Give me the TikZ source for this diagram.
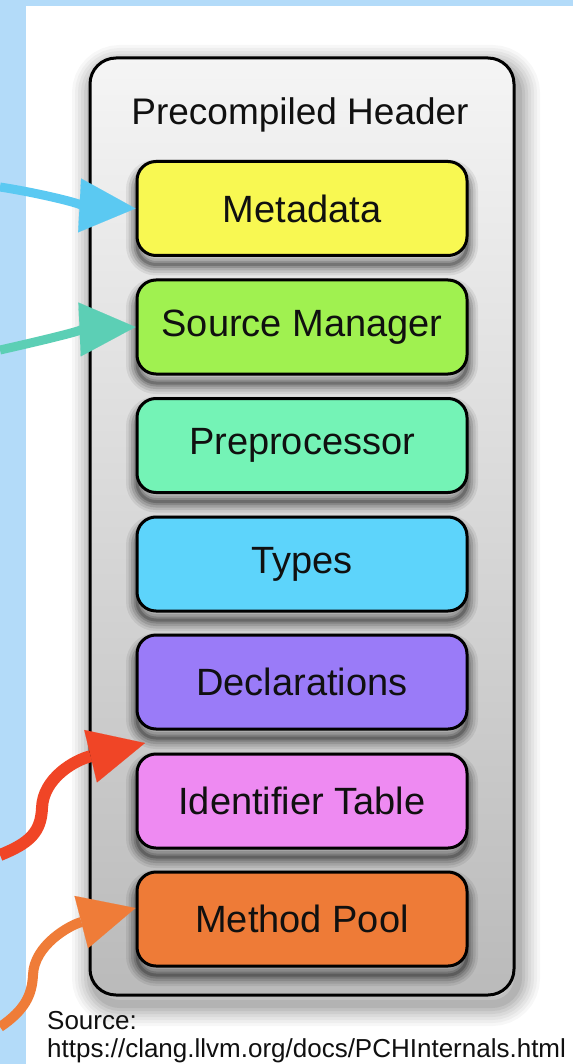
\documentclass[tikz,border=0pt]{standalone}
\usepackage{fontspec}
\setmainfont{Liberation Sans}
\usetikzlibrary{arrows.meta,calc}

\definecolor{pagebg}{HTML}{B3DBF9}
\definecolor{inktext}{HTML}{101010}
\definecolor{cMeta}{HTML}{F8F852}
\definecolor{cSrc}{HTML}{A0F150}
\definecolor{cPre}{HTML}{74F3B6}
\definecolor{cTypes}{HTML}{5DD4FB}
\definecolor{cDecl}{HTML}{9A7BF8}
\definecolor{cIdent}{HTML}{EE8AF2}
\definecolor{cPool}{HTML}{EE7B37}
\definecolor{aBlue}{HTML}{5BC9F2}
\definecolor{aTeal}{HTML}{5CCFB5}
\definecolor{aRed}{HTML}{F04526}
\definecolor{aOrange}{HTML}{EF7C38}

\tikzset{
  % soft shadow built from stacked translucent strokes
  softlayer/.style n args={4}{preaction={draw=black, line width=#1, opacity=#2,
      transform canvas={xshift=#3, yshift=#4}}},
  container/.style={draw=black, line width=3pt, rounded corners=26pt,
    top color=white!96!black, bottom color=white!73!black,
    softlayer={44pt}{0.03}{4pt}{-9pt},
    softlayer={38pt}{0.035}{4pt}{-9pt},
    softlayer={32pt}{0.04}{4pt}{-9pt},
    softlayer={26pt}{0.045}{4pt}{-9pt},
    softlayer={20pt}{0.05}{4pt}{-9pt},
    softlayer={14pt}{0.06}{4pt}{-9pt},
    softlayer={8pt}{0.07}{4pt}{-9pt}},
  section/.style={draw=black, line width=3pt, rounded corners=19pt,
    minimum width=330pt, minimum height=94pt, inner sep=0pt,
    text=inktext, font=\fontsize{38}{44}\selectfont,
    softlayer={22pt}{0.07}{0pt}{-9pt},
    softlayer={17pt}{0.09}{0pt}{-9pt},
    softlayer={12pt}{0.12}{0pt}{-9pt},
    softlayer={7pt}{0.15}{0pt}{-9pt},
    softlayer={3pt}{0.2}{0pt}{-9pt}},
  feed/.style={line width=#1, -{Triangle[length=56pt,width=54pt,line width=0.1pt]}},
  feed/.default=9pt
}

\begin{document}
\begin{tikzpicture}[x=1pt,y=-1pt]
  % page background
  \fill[pagebg] (0,0) rectangle (573,1064);
  \fill[white] (26,6) rectangle (573,1064);
  \useasboundingbox (0,0) rectangle (573,1064);

  % precompiled header container
  \node[container, minimum width=424pt, minimum height=937pt, inner sep=0pt]
    (pch) at (302,526.5) {};
  \node[text=inktext, font=\fontsize{37}{44}\selectfont, anchor=base]
    (title) at (300,125) {Precompiled Header};

  % sections
  \node[section, fill=cMeta]  (meta)  at (302,208.5) {Metadata};
  \node[section, fill=cSrc]   (src)   at (302,327)   {Source Manager};
  \node[section, fill=cPre]   (pre)   at (302,445.5) {Preprocessor};
  \node[section, fill=cTypes] (types) at (302,564)   {Types};
  \node[section, fill=cDecl]  (decl)  at (302,682)   {Declarations};
  \node[section, fill=cIdent] (ident) at (302,801)   {Identifier Table};
  \node[section, fill=cPool]  (pool)  at (302,919)   {Method Pool};

  % incoming arrows
  \coordinate (inBlue)   at (0,187);
  \coordinate (inTeal)   at (0,350);
  \coordinate (inRed)    at (0,855);
  \coordinate (inOrange) at (0,1027);
  \coordinate (redTip)   at (145,743);
  \coordinate (poolTip)  at ($(pool.west)+(0,-11)$);

  \draw[feed, aBlue] (inBlue) .. controls (45,194) and (90,206) .. (meta.west);
  \draw[feed, aTeal] (inTeal) .. controls (40,341) and (90,329) .. (src.west);
  \draw[feed=12pt, aRed] (inRed) .. controls (30,843) and (41,832) .. (42,808)
        .. controls (43,778) and (75,760) .. (redTip);
  \draw[feed=10pt, aOrange] (inOrange) .. controls (25,1010) and (32,995) .. (33,975)
        .. controls (34,945) and (70,925) .. (poolTip);

  % source note
  \node[anchor=base west, inner sep=0pt, text=inktext, font=\fontsize{26}{30}\selectfont]
    (srcnote) at (47,1029) {Source:};
  \node[anchor=base west, inner sep=0pt, text=inktext, font=\fontsize{26}{30}\selectfont]
    (srcurl) at (47,1057) {https://clang.llvm.org/docs/PCHInternals.html};
\end{tikzpicture}
\end{document}
